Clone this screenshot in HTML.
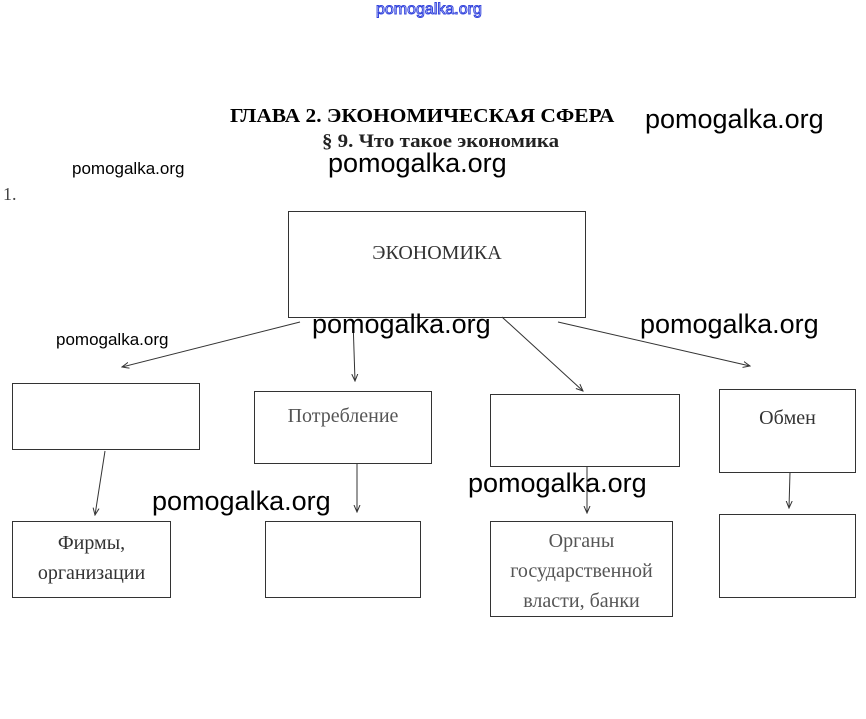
<!DOCTYPE html>
<html><head><meta charset="utf-8"><style>
body{margin:0;width:866px;height:719px;background:#fff;position:relative;overflow:hidden;font-family:"Liberation Serif",serif}
.a{position:absolute;white-space:nowrap}
.b{position:absolute;border:1px solid #333;box-sizing:border-box;text-align:center;font-family:"Liberation Serif",serif;color:#333;font-size:20px}
.w{position:absolute;white-space:nowrap;font-family:"Liberation Sans",sans-serif;color:#000}
.L{font-size:27px}.S{font-size:17px}
</style></head><body>
<div class="w" style="left:376px;top:1px;font-size:16px;color:#fff;-webkit-text-stroke:1px #3344dd">pomogalka.org</div>
<div class="a" style="left:230px;top:105px;font-size:20px;font-weight:bold;transform:scaleX(1.07);transform-origin:left">ГЛАВА 2. ЭКОНОМИЧЕСКАЯ СФЕРА</div>
<div class="a" style="left:322px;top:131px;font-size:19px;font-weight:bold;color:#222;transform:scaleX(1.1);transform-origin:left">§ 9. Что такое экономика</div>
<div class="a" style="left:3px;top:184px;font-size:18px;color:#444">1.</div>
<div class="w L" style="left:645px;top:104px">pomogalka.org</div>
<div class="w L" style="left:328px;top:148px">pomogalka.org</div>
<div class="w S" style="left:72px;top:159px">pomogalka.org</div>
<div class="b" style="left:288px;top:211px;width:298px;height:107px;padding-top:30px">ЭКОНОМИКА</div>
<svg style="position:absolute;left:0;top:0" width="866" height="719">
<defs><marker id="m" markerWidth="8" markerHeight="8" refX="7" refY="4" orient="auto"><path d="M0,1 L7,4 L0,7" fill="none" stroke="#333" stroke-width="1"/></marker></defs>
<g stroke="#333" stroke-width="1" fill="none" marker-end="url(#m)">
<line x1="300" y1="322" x2="122" y2="367"/>
<line x1="353" y1="320" x2="355" y2="381"/>
<line x1="502" y1="317" x2="583" y2="391"/>
<line x1="558" y1="322" x2="750" y2="366"/>
<line x1="105" y1="451" x2="95" y2="515"/>
<line x1="357" y1="463" x2="357" y2="512"/>
<line x1="587" y1="466" x2="587" y2="513"/>
<line x1="790" y1="472" x2="789" y2="508"/>
</g></svg>
<div class="w L" style="left:312px;top:309px">pomogalka.org</div>
<div class="w L" style="left:640px;top:309px">pomogalka.org</div>
<div class="w S" style="left:56px;top:330px">pomogalka.org</div>
<div class="b" style="left:12px;top:383px;width:188px;height:67px"></div>
<div class="b" style="left:254px;top:391px;width:178px;height:73px;padding-top:13px;color:#555">Потребление</div>
<div class="b" style="left:490px;top:394px;width:190px;height:73px"></div>
<div class="b" style="left:719px;top:389px;width:137px;height:84px;padding-top:17px">Обмен</div>
<div class="w L" style="left:468px;top:468px">pomogalka.org</div>
<div class="w L" style="left:152px;top:486px">pomogalka.org</div>
<div class="b" style="left:12px;top:521px;width:159px;height:77px;padding-top:6px;line-height:30px">Фирмы,<br>организации</div>
<div class="b" style="left:265px;top:521px;width:156px;height:77px"></div>
<div class="b" style="left:490px;top:521px;width:183px;height:96px;padding-top:4px;line-height:30px;color:#555">Органы<br>государственной<br>власти, банки</div>
<div class="b" style="left:719px;top:514px;width:137px;height:84px"></div>
</body></html>
